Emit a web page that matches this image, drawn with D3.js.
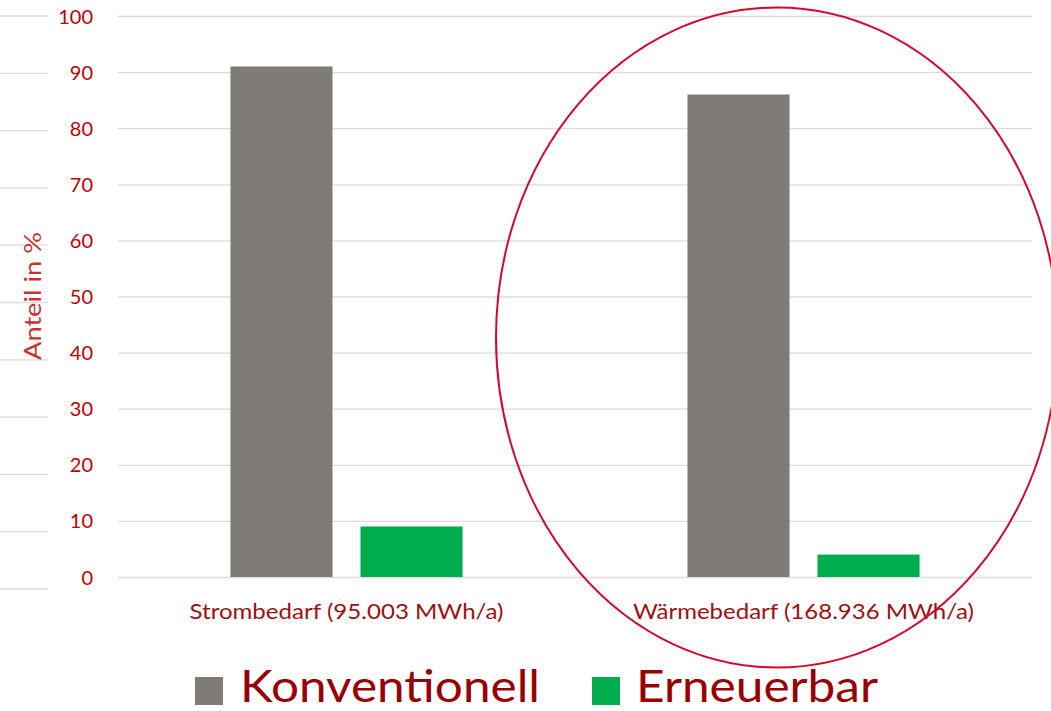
<!DOCTYPE html>
<html>
<head>
<meta charset="utf-8">
<script src="https://cdn.jsdelivr.net/npm/d3@7"></script>
<style>
  html, body { margin: 0; padding: 0; background: #ffffff; }
  svg { display: block; }
  text { font-family: Lato, "Open Sans", sans-serif; }
</style>
</head>
<body>
<svg id="chart" width="1051" height="711"></svg>
<script>
// Energy demand split by source, share in percent
const categories = ["Strombedarf (95.003 MWh/a)", "Wärmebedarf (168.936 MWh/a)"];
const seriesNames = ["Konventionell", "Erneuerbar"];
const konventionell = [91, 86];
const erneuerbar = [9, 4];
const yTicks = [0, 10, 20, 30, 40, 50, 60, 70, 80, 90, 100];
const axisTitle = "Anteil in %";

const colors = { Konventionell: "#7f7b77", Erneuerbar: "#00ad4e" };

const W = 1051, H = 711;
const margin = { left: 118, right: 19, top: 16, bottom: 134 };
const svg = d3.select("#chart");

const x = d3.scaleBand().domain(categories)
  .range([margin.left, W - margin.right]).paddingInner(0).paddingOuter(0);
const x1 = d3.scaleBand().domain(seriesNames)
  .range([0, x.bandwidth()]).paddingInner(0.215).paddingOuter(0.865);
const y = d3.scaleLinear().domain([0, 100]).range([H - margin.bottom, margin.top]);

// faint guide lines along the left edge
const yLeft = d3.scaleLinear().domain([0, 100]).range([589, 16]);
svg.append("g").selectAll("line").data(yTicks).join("line")
  .attr("x1", 0).attr("x2", 48)
  .attr("y1", d => yLeft(d)).attr("y2", d => yLeft(d))
  .attr("stroke", "#dcdcdc").attr("stroke-width", 1.3);

// gridlines and y tick labels
const yAxis = d3.axisLeft(y).tickValues(yTicks).tickSize(0).tickPadding(0);
const gy = svg.append("g").attr("transform", `translate(${margin.left},0)`).call(yAxis);
gy.select(".domain").remove();
gy.selectAll(".tick line").attr("x2", W - margin.right - margin.left)
  .attr("stroke", "#dcdcdc").attr("stroke-width", 1.3);
gy.selectAll(".tick text").attr("x", -25).attr("fill", "#c00000")
  .attr("font-size", 20).attr("dy", "0.35em").attr("font-family", "Lato, sans-serif");

// bars
const rows = categories.map((c, i) => ({ cat: c, values: [
  { key: "Konventionell", value: konventionell[i] },
  { key: "Erneuerbar", value: erneuerbar[i] }
]}));
const groups = svg.append("g").selectAll("g").data(rows).join("g")
  .attr("transform", d => `translate(${x(d.cat)},0)`);
groups.selectAll("rect").data(d => d.values).join("rect")
  .attr("x", d => x1(d.key)).attr("width", x1.bandwidth())
  .attr("y", d => y(d.value)).attr("height", d => y(0) - y(d.value))
  .attr("fill", d => colors[d.key]);

// category labels
const labelWidths = [314, 341];
const xAxis = d3.axisBottom(x).tickSize(0).tickPadding(0);
const gx = svg.append("g").attr("transform", `translate(0,${y(0)})`).call(xAxis);
gx.select(".domain").remove();
gx.selectAll(".tick text").attr("y", 42).attr("dy", 0).attr("fill", "#a01010")
  .attr("font-size", 22).attr("font-family", "Lato, sans-serif")
  .attr("textLength", (d, i) => labelWidths[i]).attr("lengthAdjust", "spacingAndGlyphs");

// axis title
svg.append("text").attr("transform", "translate(41,296) rotate(-90)")
  .attr("text-anchor", "middle").attr("fill", "#c8312e").attr("font-size", 24)
  .attr("textLength", 128).attr("lengthAdjust", "spacingAndGlyphs")
  .text(axisTitle);

// legend
const legend = svg.append("g");
const legendItems = [
  { key: "Konventionell", sx: 195, tx: 240, tw: 300 },
  { key: "Erneuerbar", sx: 592, tx: 636, tw: 242 }
];
legendItems.forEach(it => {
  legend.append("rect").attr("x", it.sx).attr("y", 677).attr("width", 28).attr("height", 28)
    .attr("fill", colors[it.key]);
  legend.append("text").attr("x", it.tx).attr("y", 702).attr("fill", "#990000")
    .attr("font-size", 45).attr("textLength", it.tw).attr("lengthAdjust", "spacingAndGlyphs")
    .text(it.key);
});

// highlight ring around the heat demand group
svg.append("ellipse").attr("cx", 777).attr("cy", 337.5).attr("rx", 281).attr("ry", 330)
  .attr("fill", "none").attr("stroke", "#d7072c").attr("stroke-width", 2);
</script>
</body>
</html>
